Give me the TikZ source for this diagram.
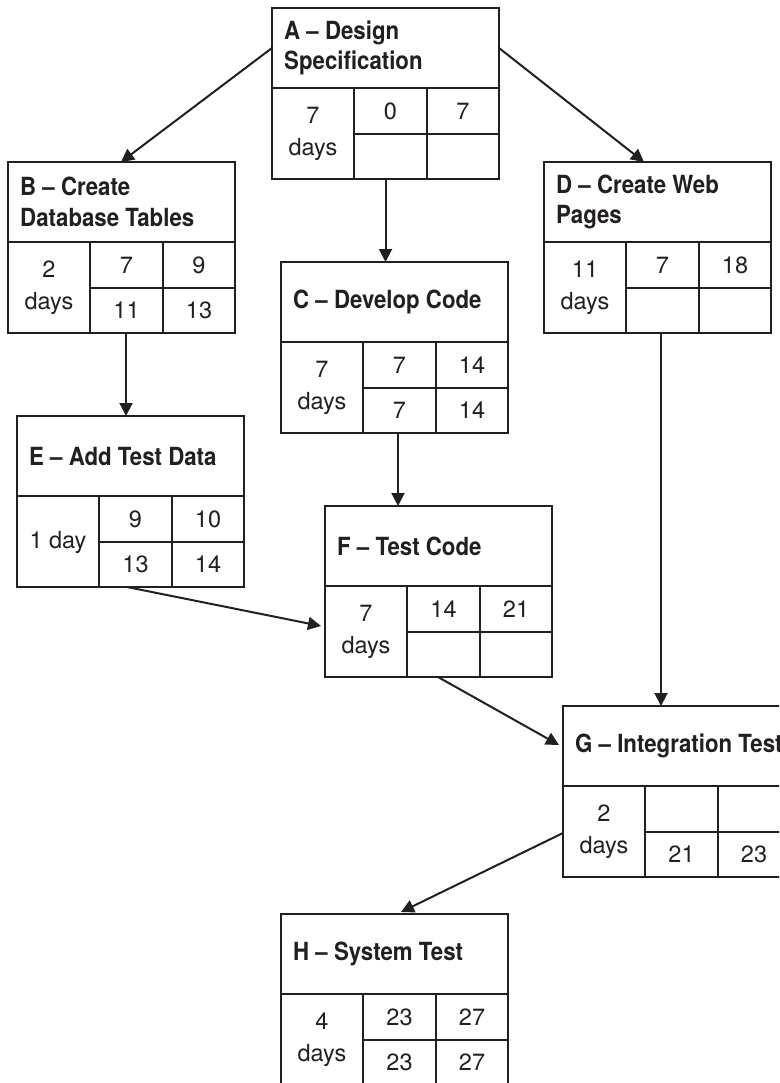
\documentclass[tikz,border=0pt]{standalone}
\usepackage{fontspec}
\setmainfont{TeX Gyre Heros}
\newfontfamily\hdrfont{TeX Gyre Heros}[FakeStretch=0.89]
\usetikzlibrary{calc,arrows.meta}
\definecolor{ink}{RGB}{35,31,32}
\newcommand\actbox[8]{%
  \node[actframe, anchor=north west] (#1) at #2 {};
  \draw[cellline] ($(#1.north west)+(0,80)$) -- ($(#1.north east)+(0,80)$);
  \draw[cellline] ($(#1.north west)+(82,80)$) -- ($(#1.south west)+(82,0)$);
  \draw[cellline] ($(#1.north west)+(155,80)$) -- ($(#1.south west)+(155,0)$);
  \draw[cellline] ($(#1.north west)+(82,126)$) -- ($(#1.north east)+(0,126)$);
  \node[hdr, anchor=west] (#1-h) at ($(#1.north west)+(12,40)$) {#3};
  \node[cell] (#1-d) at ($(#1.north west)+(41,126)$) {#4};
  \node[cell] (#1-es) at ($(#1.north west)+(118.5,103)$) {#5};
  \node[cell] (#1-ef) at ($(#1.north west)+(191,103)$) {#6};
  \node[cell] (#1-ls) at ($(#1.north west)+(118.5,148.5)$) {#7};
  \node[cell] (#1-lf) at ($(#1.north west)+(191,148.5)$) {#8};
}
\begin{document}
\begin{tikzpicture}[x=1pt,y=-1pt,
  actframe/.style={draw=ink, line width=2.1pt, fill=white, minimum width=227pt, minimum height=171pt, inner sep=0pt, outer sep=0pt},
  cellline/.style={draw=ink, line width=2pt},
  hdr/.style={inner sep=0pt, align=left, text=ink, font=\hdrfont\bfseries\fontsize{25}{30.5}\selectfont},
  cell/.style={inner sep=0pt, align=center, text=ink, font=\fontsize{23.5}{32}\selectfont},
  arr/.style={draw=ink, line width=2pt, -{Triangle[length=13pt,width=13pt]}}]
\useasboundingbox (0,0) rectangle (779,1083);
\fill[white] (0,0) rectangle (779,1083);
\clip (0,0) rectangle (779,1083);

\actbox{A}{(272,8)}{A – Design\\Specification}{7\\days}{0}{7}{}{}
\actbox{B}{(8,162)}{B – Create\\Database Tables}{2\\days}{7}{9}{11}{13}
\actbox{D}{(544,162)}{D – Create Web\\Pages}{11\\days}{7}{18}{}{}
\actbox{C}{(281,262)}{C – Develop Code}{7\\days}{7}{14}{7}{14}
\actbox{E}{(17,416)}{E – Add Test Data}{1 day}{9}{10}{13}{14}
\actbox{F}{(325,506)}{F – Test Code}{7\\days}{14}{21}{}{}
\actbox{G}{(563,706)}{G – Integration Test}{2\\days}{}{}{21}{23}
\actbox{H}{(281,914)}{H – System Test}{4\\days}{23}{27}{23}{27}

% connectors
\coordinate (aL) at ($(A.north west)+(0,40)$);
\coordinate (aR) at ($(A.north east)+(0,40)$);
\coordinate (bT) at ($(B.north west)+(113,0)$);
\coordinate (dT) at ($(D.north west)+(100,0)$);
\draw[arr] (aL) -- (bT);
\draw[arr] (aR) -- (dT);
\draw[arr] (A.south) -- (A.south |- C.north);
\coordinate (bB) at ($(B.south west)+(118,0)$);
\draw[arr] (bB) -- (bB |- E.north);
\coordinate (cB) at ($(C.south west)+(117,0)$);
\draw[arr] (cB) -- (cB |- F.north);
\coordinate (eB) at ($(E.south west)+(110,0)$);
\coordinate (fL) at ($(F.north west)+(-4,120)$);
\draw[arr] (eB) -- (fL);
\coordinate (fB) at ($(F.south west)+(113,0)$);
\coordinate (gL) at ($(G.north west)+(-4,39)$);
\draw[arr] (fB) -- (gL);
\coordinate (dB) at ($(D.south west)+(117,0)$);
\draw[arr] (dB) -- (dB |- G.north);
\coordinate (gL2) at ($(G.north west)+(0,127)$);
\coordinate (hT) at ($(H.north west)+(120,-2)$);
\draw[arr] (gL2) -- (hT);
\end{tikzpicture}
\end{document}
